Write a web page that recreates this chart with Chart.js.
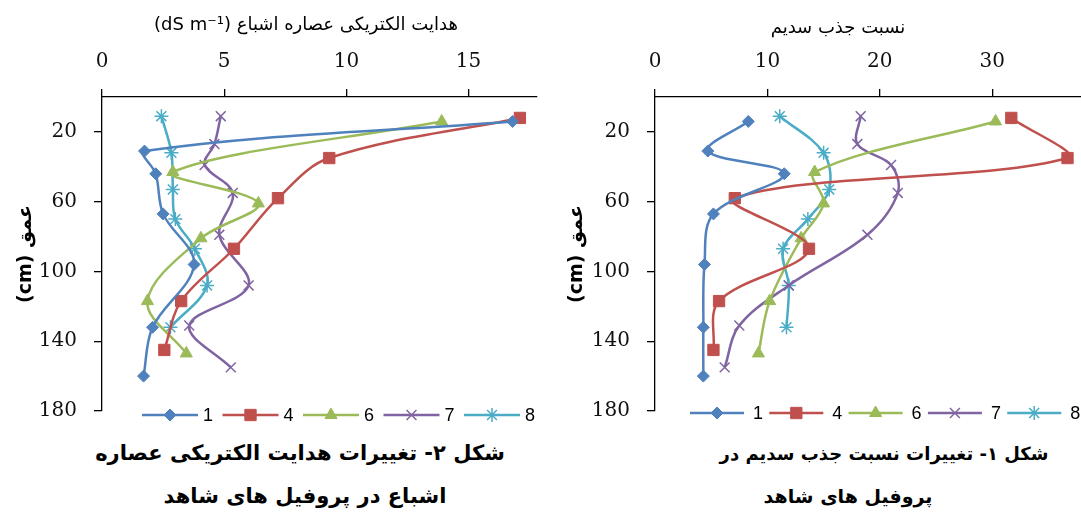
<!DOCTYPE html>
<html>
<head>
<meta charset="utf-8">
<script src="https://cdn.jsdelivr.net/npm/chart.js"></script>
<style>
  body { margin: 0; background: #fff; width: 1081px; height: 517px; overflow: hidden; position: relative; }
  canvas { position: absolute; top: 0; }
  #ecChart { left: 0; }
  #sarChart { left: 540px; }
  .cap { position: absolute; font-family: "DejaVu Sans"; font-weight: bold; color: #000; white-space: nowrap; direction: rtl; transform: translate(-50%, -50%); }
</style>
</head>
<body>
<canvas id="ecChart" width="540" height="440" dir="rtl"></canvas>
<canvas id="sarChart" width="541" height="440" dir="rtl"></canvas>
<div class="cap" style="left:300px; top:453px; font-size:21px;">شکل ۲- تغییرات هدایت الکتریکی عصاره</div>
<div class="cap" style="left:305px; top:496px; font-size:21px;">اشباع در پروفیل های شاهد</div>
<div class="cap" style="left:884px; top:453px; font-size:18px;">شکل ۱- تغییرات نسبت جذب سدیم در</div>
<div class="cap" style="left:848px; top:496px; font-size:19px;">پروفیل های شاهد</div>
<script>
// profiles (legend names)
const profiles = ['1', '4', '6', '7', '8'];

// sampling depths (cm) of each profile
const depth1 = [14, 31, 44, 67, 96, 132, 160];
const depth4 = [12, 35, 58, 87, 117, 145];
const depth6 = [14, 43, 61, 81, 117, 147];
const depth7 = [11, 27, 39, 55, 79, 108, 131, 155];
const depth8 = [11, 32, 53, 70, 87, 108, 132];

// EC of saturation extract (dS m-1)
const ec1 = [16.8, 1.74, 2.2, 2.5, 3.77, 2.07, 1.7];
const ec4 = [17.1, 9.3, 7.2, 5.4, 3.24, 2.55];
const ec6 = [13.9, 2.9, 6.4, 4.05, 1.86, 3.45];
const ec7 = [4.86, 4.6, 4.2, 5.35, 4.8, 6.0, 3.57, 5.27];
const ec8 = [2.43, 2.84, 2.9, 3.0, 3.8, 4.3, 2.8];

// SAR
const sar1 = [8.3, 4.7, 11.5, 5.2, 4.4, 4.3, 4.3];
const sar4 = [31.7, 36.7, 7.1, 13.7, 5.7, 5.2];
const sar6 = [30.3, 14.2, 15.0, 13.0, 10.2, 9.2];
const sar7 = [18.3, 18.0, 21.0, 21.6, 18.9, 11.9, 7.5, 6.2];
const sar8 = [11.1, 15.0, 15.5, 13.6, 11.4, 11.9, 11.7];

// tick labels
const depthTicks = [20, 60, 100, 140, 180];
const ecTicks = [0, 5, 10, 15];
const sarTicks = [0, 10, 20, 30];

const depths = [depth1, depth4, depth6, depth7, depth8];

const seriesStyle = [
  { color: '#4F81BD', point: 'rectRot', radius: 6, bw: 1 },
  { color: '#C0504D', point: 'rect', radius: 8, bw: 1 },
  { color: '#9BBB59', point: 'triangle', radius: 7, bw: 1 },
  { color: '#8064A2', point: 'crossRot', radius: 7, bw: 1.5 },
  { color: '#4BACC6', point: 'star', radius: 7, bw: 1.5 }
];

function buildSets(values) {
  return profiles.map(function (name, i) {
    const st = seriesStyle[i];
    return {
      label: name,
      data: depths[i].map(function (d, j) { return { x: values[i][j], y: d }; }),
      borderColor: st.color,
      backgroundColor: st.color,
      pointBackgroundColor: st.color,
      pointBorderColor: st.color,
      pointStyle: st.point,
      pointRadius: st.radius,
      pointBorderWidth: st.bw,
      borderWidth: 2.5,
      tension: 0.35,
      fill: false
    };
  });
}

// legend drawn as one row inside the bottom of the plot
const rowLegend = {
  id: 'rowLegend',
  afterDraw(chart, args, opts) {
    const ctx = chart.ctx;
    ctx.save();
    ctx.direction = 'ltr';
    chart.data.datasets.forEach(function (ds, i) {
      const x0 = opts.x + i * opts.step;
      ctx.strokeStyle = ds.borderColor;
      ctx.lineWidth = ds.borderWidth;
      ctx.beginPath();
      ctx.moveTo(x0, opts.y);
      ctx.lineTo(x0 + opts.len, opts.y);
      ctx.stroke();
      ctx.fillStyle = ds.pointBackgroundColor;
      ctx.lineWidth = ds.pointBorderWidth;
      Chart.helpers.drawPoint(ctx, { pointStyle: ds.pointStyle, radius: ds.pointRadius, borderWidth: ds.pointBorderWidth, rotation: 0 }, x0 + opts.len / 2, opts.y);
      ctx.fillStyle = '#000';
      ctx.font = '18px "Liberation Sans"';
      ctx.textAlign = 'left';
      ctx.textBaseline = 'middle';
      ctx.fillText(ds.label, x0 + opts.len + opts.gap, opts.y + 1);
    });
    ctx.restore();
  }
};

// axis title above the top axis
const topTitle = {
  id: 'topTitle',
  afterDraw(chart, args, opts) {
    const ctx = chart.ctx;
    ctx.save();
    ctx.direction = 'rtl';
    ctx.font = opts.font;
    ctx.fillStyle = '#000';
    ctx.textAlign = 'center';
    ctx.textBaseline = 'middle';
    ctx.fillText(opts.text, opts.x, opts.y);
    ctx.restore();
  }
};

const tickFont = { family: 'DejaVu Serif', size: 20 };

function makeOptions(cfg) {
  return {
    responsive: false,
    animation: false,
    events: [],
    layout: { padding: { left: 0, right: cfg.padRight, top: 0, bottom: cfg.padBottom }, autoPadding: false },
    scales: {
      x: {
        type: 'linear',
        position: 'top',
        min: 0,
        max: cfg.xMax,
        afterBuildTicks: function (s) { s.ticks = cfg.xTicks.map(function (v) { return { value: v }; }); },
        afterFit: function (s) { s.height = 97; },
        ticks: { font: tickFont, color: '#111', padding: 15 },
        grid: { drawOnChartArea: false, tickLength: 8, color: '#000', lineWidth: 1.3 },
        border: { color: '#000', width: 1.3 }
      },
      y: {
        type: 'linear',
        reverse: true,
        min: 0,
        max: 180,
        afterBuildTicks: function (s) { s.ticks = depthTicks.map(function (v) { return { value: v }; }); },
        afterFit: function (s) { s.width = cfg.yWidth; },
        ticks: { font: tickFont, color: '#111', padding: 17 },
        grid: { drawOnChartArea: false, tickLength: 8, color: '#000', lineWidth: 1.3 },
        border: { color: '#000', width: 1.3 },
        title: {
          display: true,
          text: 'عمق (cm)',
          color: '#000',
          font: { family: 'DejaVu Sans', size: 19, weight: 'bold' },
          padding: { top: cfg.yTitlePad, bottom: 0 }
        }
      }
    },
    plugins: {
      legend: { display: false },
      tooltip: { enabled: false },
      rowLegend: cfg.legend,
      topTitle: cfg.title
    }
  };
}

new Chart(document.getElementById('ecChart').getContext('2d'), {
  type: 'line',
  data: { datasets: buildSets([ec1, ec4, ec6, ec7, ec8]) },
  options: makeOptions({
    xMax: 17.8, xTicks: ecTicks, yWidth: 102, padRight: 3, padBottom: 20, yTitlePad: 15,
    legend: { x: 142, step: 80.5, len: 56, gap: 5, y: 415 },
    title: { text: 'هدایت الکتریکی عصاره اشباع (dS m⁻¹)', x: 306, y: 25, font: '18px "DejaVu Sans"' }
  }),
  plugins: [rowLegend, topTitle]
});

new Chart(document.getElementById('sarChart').getContext('2d'), {
  type: 'line',
  data: { datasets: buildSets([sar1, sar4, sar6, sar7, sar8]) },
  options: makeOptions({
    xMax: 37.9, xTicks: sarTicks, yWidth: 115, padRight: 0, padBottom: 27, yTitlePad: 26,
    legend: { x: 150, step: 79.3, len: 54, gap: 9, y: 413 },
    title: { text: 'نسبت جذب سدیم', x: 298, y: 28, font: '18px "DejaVu Sans"' }
  }),
  plugins: [rowLegend, topTitle]
});
</script>
</body>
</html>
